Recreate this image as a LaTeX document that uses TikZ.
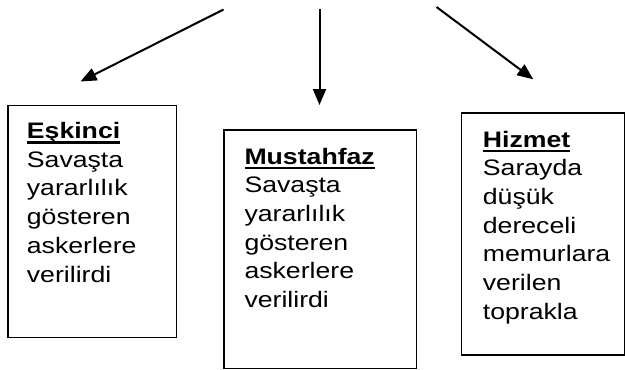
\documentclass[tikz,border=0pt]{standalone}
\usepackage{fontspec}
\setmainfont{Liberation Sans}[FakeStretch=1.19]
\usetikzlibrary{arrows.meta}
\newcommand\myul[1]{\setbox0\hbox{\bfseries #1}\rlap{\rule[-5bp]{\wd0}{2.4bp}}\box0}
\newcommand\lines[1]{\vtop{\baselineskip=28.7bp\lineskiplimit=-100pt #1}}
\tikzset{
  frame/.style={draw=black, line width=1.3bp, inner sep=0pt, minimum width=0pt},
  txt/.style={anchor=base west, inner sep=0pt, font=\fontsize{22.4bp}{28.7bp}\selectfont},
  arr/.style={line width=2bp, -{Triangle[length=16bp,width=13bp]}}
}
\begin{document}
\begin{tikzpicture}[x=1bp,y=-1bp]
\useasboundingbox (0,0) rectangle (625,369);
% boxes
\node[frame, minimum width=168.4bp, minimum height=232bp, anchor=north west] (b1) at (7.3,105) {};
\node[frame, minimum width=192.4bp, minimum height=238.5bp, anchor=north west] (b2) at (223.3,129.3) {};
\node[frame, minimum width=163bp, minimum height=242bp, anchor=north west] (b3) at (461,112.3) {};
% texts
\node[txt] (t1) at (26.7,138.5) {\lines{\hbox{\myul{Eşkinci}}\hbox{Savaşta}\hbox{yararlılık}\hbox{gösteren}\hbox{askerlere}\hbox{verilirdi}}};
\node[txt] (t2) at (244.3,164) {\lines{\hbox{\myul{Mustahfaz}}\hbox{Savaşta}\hbox{yararlılık}\hbox{gösteren}\hbox{askerlere}\hbox{verilirdi}}};
\node[txt] (t3) at (482.7,147) {\lines{\hbox{\myul{Hizmet}}\hbox{Sarayda}\hbox{düşük}\hbox{dereceli}\hbox{memurlara}\hbox{verilen}\hbox{toprakla}}};
% arrows
\coordinate (s1) at (223.5,9.5);
\coordinate (e1) at (80.5,81.5);
\coordinate (s2) at (319.5,9);
\coordinate (e2) at (319.5,105);
\coordinate (s3) at (436.5,7);
\coordinate (e3) at (533.3,79.3);
\draw[arr] (s1) -- (e1);
\draw[arr] (s2) -- (e2);
\draw[arr] (s3) -- (e3);
\end{tikzpicture}
\end{document}
